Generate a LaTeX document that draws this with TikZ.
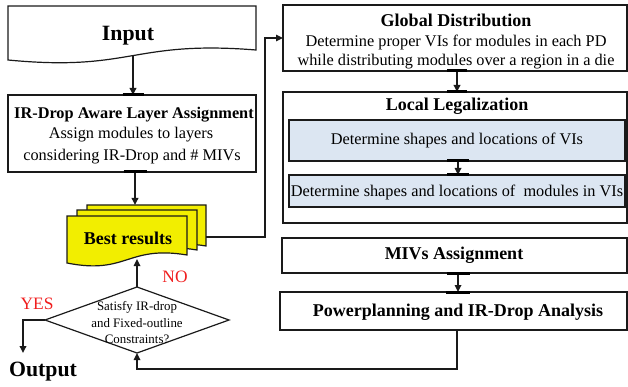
\documentclass[tikz,border=0pt]{standalone}
\usepackage{fontspec}
\setmainfont{Liberation Serif}
\usetikzlibrary{arrows.meta,shapes.geometric}
\definecolor{ink}{HTML}{1A1A1A}
\definecolor{docyellow}{RGB}{242,238,0}
\definecolor{lightblue}{HTML}{DCE6F2}
\definecolor{labelred}{HTML}{F01E1E}
% document shape: left, top, right, bottom-right, bottom-left, fill
\newcommand{\docshape}[6]{%
  \filldraw[draw=ink,line width=1.2pt,fill=#6,line join=miter]
    (#1,#2) -- (#3,#2) -- (#3,#4)
    .. controls ({(#1+#3)/2},{#4-10}) and ({(#1+#3)/2},{#5+12}) .. (#1,#5) -- cycle;}
\begin{document}
\begin{tikzpicture}[x=1pt,y=-1pt,
  box/.style={draw=ink,line width=1.2pt,inner sep=0pt,outer sep=0pt},
  bluebox/.style={box,fill=lightblue},
  conn/.style={draw=ink,line width=1.6pt,-{Triangle[length=7pt,width=6.5pt]}},
  thickconn/.style={conn,line width=2.4pt},
  plainline/.style={draw=ink,line width=1.6pt},
  gluebar/.style={draw=black,line width=3pt},
  lbl/.style={inner sep=0pt,font=\fontsize{16.3}{18}\selectfont},
  ttl/.style={inner sep=0pt,font=\fontsize{18}{20}\selectfont\bfseries},
  irttl/.style={inner sep=0pt,font=\fontsize{16.3}{18}\selectfont\bfseries},
  big/.style={inner sep=0pt,font=\fontsize{21.8}{24}\selectfont\bfseries},
  small/.style={inner sep=0pt,font=\fontsize{12.9}{14}\selectfont},
  redlbl/.style={inner sep=0pt,text=labelred,font=\fontsize{17.4}{19}\selectfont}]
\useasboundingbox (0,0) rectangle (628,387);

% ---------- Input (document shape) ----------
\docshape{8}{6}{256}{50}{60}{white}
\node[big] (input) at (128,36) {Input};
\coordinate (inputbot) at (133,56);

% ---------- IR-Drop aware layer assignment ----------
\node[box,minimum width=248pt,minimum height=77pt] (ir) at (132,133.5) {};
\node[irttl] (irt) at (134,115) {IR-Drop Aware Layer Assignment};
\node[lbl] (ir1) at (131,135) {Assign modules to layers};
\node[lbl] (ir2) at (132,157) {considering IR-Drop and \# MIVs};

% ---------- Best results (stacked documents) ----------
\docshape{87}{205}{206}{246}{254}{docyellow}
\docshape{77}{210}{197}{250}{258}{docyellow}
\docshape{67}{216}{187}{255}{263}{docyellow}
\node[ttl] (best) at (128,238) {Best results};
\coordinate (besttop) at (135,205);
\coordinate (bestright) at (206,237);
\coordinate (bestbot) at (137,259);

% ---------- Global distribution ----------
\node[box,minimum width=344pt,minimum height=66pt] (global) at (455,38) {};
\node[ttl] (gt) at (456,20) {Global Distribution};
\node[lbl] (g1) at (456,42) {Determine proper VIs for modules in each PD};
\node[lbl] (g2) at (456,62) {while distributing modules over a region in a die};

% ---------- Local legalization ----------
\node[box,minimum width=344pt,minimum height=131pt] (local) at (455,157.5) {};
\node[ttl] (lt) at (457,106) {Local Legalization};
\node[bluebox,minimum width=336pt,minimum height=41pt] (vi) at (457,140.5) {};
\node[lbl] (vit) at (457,140) {Determine shapes and locations of VIs};
\node[bluebox,minimum width=336pt,minimum height=32pt] (mod) at (457,191) {};
\node[lbl] (modt) at (457,192) {Determine shapes and locations of\ \ modules in VIs};

% ---------- MIVs assignment ----------
\node[box,minimum width=345pt,minimum height=35pt] (miv) at (454.5,255.5) {};
\node[ttl] (mivt) at (454,255) {MIVs Assignment};

% ---------- Powerplanning ----------
\node[box,minimum width=347pt,minimum height=38pt] (pp) at (453.5,311) {};
\node[ttl] (ppt) at (458,312) {Powerplanning and IR-Drop Analysis};

% ---------- Decision ----------
\node[draw=ink,line width=1.2pt,shape=diamond,inner sep=0pt,outer sep=0pt,
      minimum width=184pt,minimum height=66pt,aspect=2.79] (dec) at (137,320) {};
\node[small] (d1) at (137,307) {Satisfy IR-drop};
\node[small] (d2) at (137,323) {and Fixed-outline};
\node[small] (d3) at (137,339) {Constraints?};

\node[big] (output) at (43,372) {Output};
\node[redlbl] (no) at (175,277) {NO};
\node[redlbl] (yes) at (37,304) {YES};

% ---------- connectors ----------
\draw[thickconn] (inputbot) -- (ir.north -| inputbot);
\draw[gluebar] ([xshift=-10.5pt]ir.north -| inputbot) -- ([xshift=10.5pt]ir.north -| inputbot);

\draw[thickconn] (ir.south -| besttop) -- (besttop);
\draw[gluebar] ([xshift=-11.5pt]ir.south -| besttop) -- ([xshift=11.5pt]ir.south -| besttop);

\coordinate (loopx) at (265,237);
\draw[conn,line width=1.3pt] (bestright) -- (loopx) |- (global.west);

\draw[conn,line width=2pt] ([xshift=2pt]global.south) -- ([xshift=2pt]local.north);
\draw[gluebar] ([xshift=-8pt]global.south) -- ([xshift=12pt]global.south);
\draw[gluebar] ([xshift=-8pt]local.north) -- ([xshift=12pt]local.north);

\draw[conn,line width=1.6pt] ([xshift=1pt]vi.south) -- ([xshift=1pt]mod.north);
\draw[gluebar] ([xshift=-10pt]vi.south) -- ([xshift=12pt]vi.south);
\draw[gluebar] ([xshift=-10pt]mod.north) -- ([xshift=12pt]mod.north);

\draw[conn,line width=1.6pt] ([xshift=3.5pt]miv.south) -- ([xshift=4.5pt]pp.north);
\draw[gluebar] ([xshift=-7.5pt]miv.south) -- ([xshift=15.5pt]miv.south);
\draw[gluebar] ([xshift=-7.5pt]pp.north) -- ([xshift=16.5pt]pp.north);

\coordinate (ppbot) at (457,330);
\coordinate (loopy) at (457,369);
\draw[conn] (ppbot) -- (loopy) -| (dec.south);

\draw[conn] (dec.north) -- (bestbot);

\coordinate (yescorner) at (23,320);
\coordinate (yesend) at (23,353);
\draw[conn,line width=2pt] (dec.west) -- (yescorner) -- (yesend);
\end{tikzpicture}
\end{document}
